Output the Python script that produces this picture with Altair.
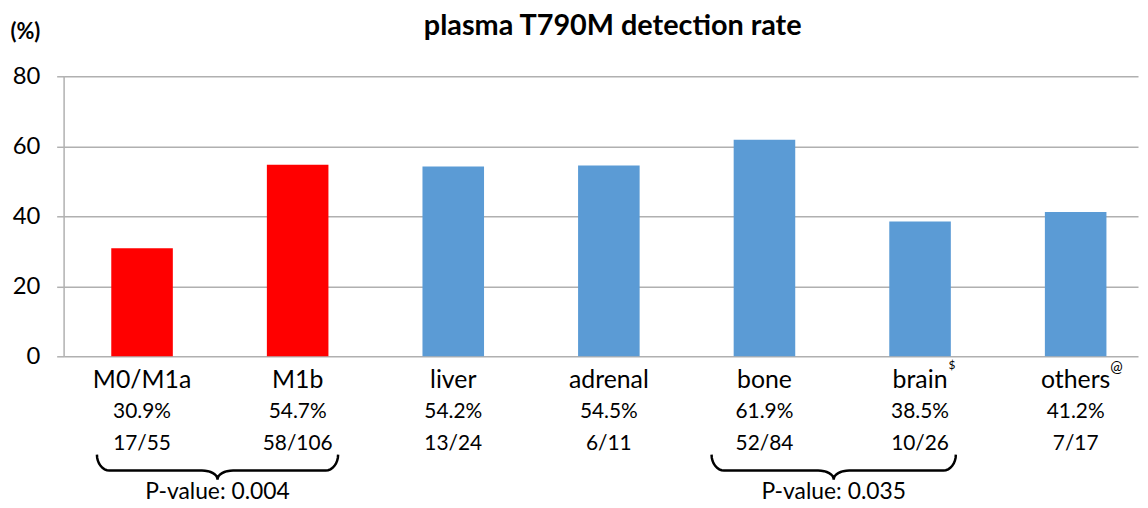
import math
import altair as alt
import pandas as pd

# ---- data ----
categories = ["M0/M1a", "M1b", "liver", "adrenal", "bone", "brain", "others"]
rates = [30.9, 54.7, 54.2, 54.5, 61.9, 38.5, 41.2]
groups = ["M stage", "M stage", "site", "site", "site", "site", "site"]
pct_labels = ["30.9%", "54.7%", "54.2%", "54.5%", "61.9%", "38.5%", "41.2%"]
frac_labels = ["17/55", "58/106", "13/24", "6/11", "52/84", "10/26", "7/17"]
superscripts = ["", "", "", "", "", "$", "@"]
y_ticks = [0, 20, 40, 60, 80]
brace_from = [-0.29, 3.66]   # in category-index units
brace_to = [1.26, 5.23]
p_labels = ["P-value: 0.004", "P-value: 0.035"]

# ---- layout ----
PLOT_W = 1082
PLOT_H = 282
STEP = 156.7
FIRST = 79
GRID = "#B0B0B0"
FONT = "Lato"
x_domain = [-FIRST / STEP, (PLOT_W - FIRST) / STEP]

df = pd.DataFrame({
    "idx": list(range(len(categories))),
    "category": categories,
    "rate": rates,
    "group": groups,
    "pct": pct_labels,
    "frac": frac_labels,
    "sup": superscripts,
})

# brace outline points
TOP, HL, TIP = 381, 397, 406
R_END, R_MID = 0.08, 0.1
rows = []
for b, (lo, hi) in enumerate(zip(brace_from, brace_to)):
    mid = (lo + hi) / 2
    pts = []
    n = 8
    for k in range(n + 1):
        t = k / n * math.pi / 2
        pts.append((lo + R_END - R_END * math.cos(t), TOP + (HL - TOP) * math.sin(t)))
    for k in range(n + 1):
        t = k / n * math.pi / 2
        pts.append((mid - R_MID + R_MID * math.sin(t), TIP - (TIP - HL) * math.cos(t)))
    for k in range(n, -1, -1):
        t = k / n * math.pi / 2
        pts.append((mid + R_MID - R_MID * math.sin(t), TIP - (TIP - HL) * math.cos(t)))
    for k in range(n, -1, -1):
        t = k / n * math.pi / 2
        pts.append((hi - R_END + R_END * math.cos(t), TOP + (HL - TOP) * math.sin(t)))
    for o, (bx, by) in enumerate(pts):
        rows.append({"brace": b, "order": o, "bx": bx, "by": by})
brace_df = pd.DataFrame(rows)

p_df = pd.DataFrame({
    "px": [(lo + hi) / 2 for lo, hi in zip(brace_from, brace_to)],
    "label": p_labels,
})

xscale = alt.Scale(domain=x_domain, nice=False, zero=False, padding=0)
x = alt.X("idx:Q", scale=xscale, axis=None)

base = alt.Chart(df)

bars = base.mark_bar(size=62).encode(
    x=x,
    y=alt.Y(
        "rate:Q",
        scale=alt.Scale(domain=[0, 80], nice=False),
        axis=alt.Axis(
            values=y_ticks, title="(%)", titleAngle=0, titleX=-54, titleY=-45,
            titleAlign="left", titleBaseline="middle", titleFontSize=22,
            titleFontWeight="bold", titleFont=FONT, titleColor="black",
            labelFont=FONT, labelFontSize=24, labelColor="black", labelPadding=17,
            tickSize=7, tickColor=GRID, tickWidth=1.5,
            domainColor=GRID, domainWidth=1.5, gridColor=GRID, gridWidth=1.5,
        ),
    ),
    color=alt.Color("group:N", scale=alt.Scale(domain=["M stage", "site"],
                                               range=["#FF0000", "#5B9BD5"]), legend=None),
)

cat_text = base.mark_text(font=FONT, fontSize=25, color="black", baseline="middle").encode(
    x=x, y=alt.value(306), text="category:N")
pct_text = base.mark_text(font=FONT, fontSize=21, color="black", baseline="middle").encode(
    x=x, y=alt.value(338), text="pct:N")
frac_text = base.mark_text(font=FONT, fontSize=21, color="black", baseline="middle").encode(
    x=x, y=alt.value(370), text="frac:N")
sup1 = base.transform_filter("datum.sup == '$'").mark_text(
    font=FONT, fontSize=12, color="black", baseline="middle", dx=32).encode(
    x=x, y=alt.value(291), text="sup:N")
sup2 = base.transform_filter("datum.sup == '@'").mark_text(
    font=FONT, fontSize=15, color="black", baseline="middle", dx=41).encode(
    x=x, y=alt.value(293), text="sup:N")

braces = alt.Chart(brace_df).mark_line(color="black", strokeWidth=2.5).encode(
    x=alt.X("bx:Q", scale=xscale, axis=None),
    y=alt.Y("by:Q", scale=None),
    detail="brace:N",
    order="order:Q",
)

p_text = alt.Chart(p_df).mark_text(font=FONT, fontSize=23, color="black", baseline="middle").encode(
    x=alt.X("px:Q", scale=xscale, axis=None), y=alt.value(419), text="label:N")

chart = alt.layer(bars, cat_text, pct_text, frac_text, sup1, sup2, braces, p_text).properties(
    width=PLOT_W,
    height=PLOT_H,
    autosize="none",
    padding={"left": 56, "top": 67, "right": 2, "bottom": 151},
    title=alt.Title("plasma T790M detection rate", font=FONT, fontSize=29,
                    fontWeight="bold", color="black", anchor="middle", dx=12, offset=-20),
    background="white",
).configure_view(stroke=None)

chart.save("out.html", embed_options={"renderer": "svg", "actions": False})
